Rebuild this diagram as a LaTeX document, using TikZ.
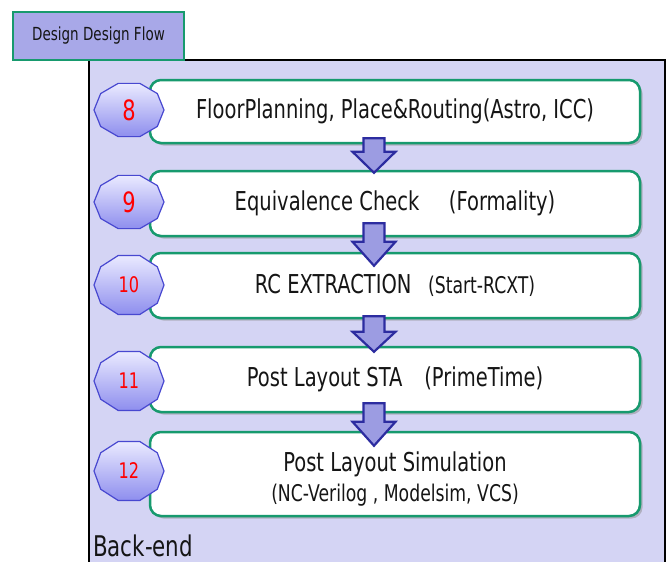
\documentclass[tikz,border=0pt]{standalone}
\usepackage{fontspec}
\setmainfont[FakeStretch=0.75]{DejaVu Sans}
\usetikzlibrary{calc,shadows}
\definecolor{panelbg}{HTML}{D4D4F4}
\definecolor{titlebg}{HTML}{A8A8E8}
\definecolor{grn}{HTML}{179A6E}
\definecolor{arrfill}{HTML}{9C9CE2}
\definecolor{arrline}{HTML}{2C2CA0}
\definecolor{decline}{HTML}{4848D0}
\definecolor{dectop}{HTML}{EAEAFF}
\definecolor{decbot}{HTML}{8E8EEE}
\definecolor{txt}{HTML}{151515}
\newcommand\fsmain{\fontsize{26}{30}\selectfont}
\newcommand\fssmall{\fontsize{23}{26}\selectfont}
\newcommand\fsnumbig{\fontsize{28}{30}\selectfont}
\newcommand\fsnumsmall{\fontsize{21.5}{24}\selectfont}
\newcommand\decag[3]{%
  \draw[deca] ($(#1)+(0:35pt and #2pt)$)
    \foreach \a in {36,72,...,324}{ -- ($(#1)+(\a:35pt and #2pt)$)} -- cycle;
  \node[numtext] (n#1) at (#1) {#3};}
\newcommand\blockarrow[5]{%
  \draw[barrowst] let \p1=(#1.south), \p2=(#2.north),
    \n1={\y1+#3pt}, \n2={\y2-#4pt}, \n3={\y2-#4pt+#5pt}, \n4={\x1-21pt} in
    (\n4-10.5pt,\n1) -- (\n4+10.5pt,\n1) -- (\n4+10.5pt,\n3) -- (\n4+21.5pt,\n3)
    -- (\n4,\n2) -- (\n4-21.5pt,\n3) -- (\n4-10.5pt,\n3) -- cycle;}
\tikzset{
  panel/.style={draw=black, line width=2pt, fill=panelbg},
  titlebox/.style={draw=grn, line width=2pt, fill=titlebg, minimum width=171pt,
    minimum height=48pt, inner sep=0pt, text=txt, font=\fontsize{18}{20}\selectfont},
  stepbox/.style={draw=grn, line width=2.5pt, fill=white, rounded corners=11pt,
    minimum width=490pt, inner sep=0pt, text=txt, align=center,
    drop shadow={shadow xshift=2.5pt, shadow yshift=-2.5pt, fill=black!45, opacity=0.5}},
  deca/.style={draw=decline, line width=1.2pt, top color=dectop, bottom color=decbot},
  numtext/.style={text=red, inner sep=0pt},
  barrowst/.style={draw=arrline, line width=2.2pt, fill=arrfill, line join=miter},
}
\begin{document}
\begin{tikzpicture}[x=1pt,y=-1pt]
\clip (0,0) rectangle (672,562);
\fill[white] (0,0) rectangle (672,562);
\draw[panel] (89,60) rectangle (665,600);
\node[titlebox] (title) at (98.5,36) {Design Design Flow};
\node[anchor=base west, inner sep=0pt, text=txt, font=\fontsize{28.5}{30}\selectfont] (backend) at (93,556) {Back-end};
% boxes
\node[stepbox, minimum height=63pt] (b1) at (395,111.5) {\fsmain FloorPlanning, Place\&Routing(Astro, ICC)};
\node[stepbox, minimum height=65pt] (b2) at (395,203.5) {\fsmain Equivalence Check\hspace{0.9em} (Formality)};
\node[stepbox, minimum height=65pt] (b3) at (395,285.5) {\fsmain RC EXTRACTION\hspace{0.4em} {\fssmall (Start-RCXT)}};
\node[stepbox, minimum height=65pt] (b4) at (395,379.5) {\fsmain Post Layout STA\hspace{0.6em} (PrimeTime)};
\node[stepbox, minimum height=84pt] (b5) at (395,474) {{\fsmain\rule{0pt}{30pt}Post Layout Simulation}\\[6pt]{\fssmall (NC-Verilog , Modelsim, VCS)}};
% number badges
\coordinate (c8) at (129,110);
\coordinate (c9) at (129,202);
\coordinate (c10) at (129,285);
\coordinate (c11) at (129,381);
\coordinate (c12) at (129,471);
\decag{c8}{28}{\fsnumbig 8}
\decag{c9}{28}{\fsnumbig 9}
\decag{c10}{31}{\fsnumsmall 10}
\decag{c11}{31}{\fsnumsmall 11}
\decag{c12}{31}{\fsnumsmall 12}
% block arrows
\blockarrow{b1}{b2}{6}{3}{21}
\blockarrow{b2}{b3}{14}{14}{24}
\blockarrow{b3}{b4}{3}{6}{20}
\blockarrow{b4}{b5}{10}{15}{24}
\end{tikzpicture}
\end{document}
